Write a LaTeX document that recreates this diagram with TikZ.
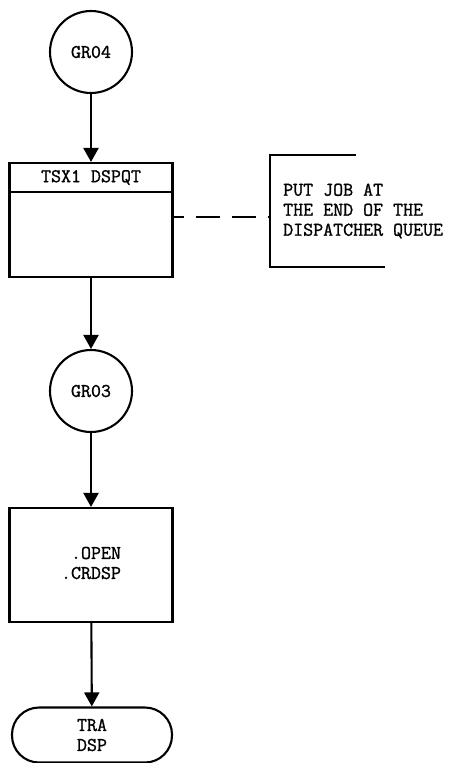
\documentclass[tikz,border=0pt]{standalone}
\usepackage{fontspec}
\newfontfamily\tyfont{Latin Modern Mono}[FakeBold=1.2]
\usetikzlibrary{arrows.meta}
\begin{document}
\begin{tikzpicture}[x=1pt,y=-1pt,
  every node/.style={font=\tyfont\fontsize{19.4}{20}\selectfont},
  ln/.style={line width=2.1pt},
  arr/.style={ln,-{Triangle[length=14pt,width=15pt]}},
  conn/.style={circle,draw,ln,minimum size=82pt,inner sep=0pt},
  procbox/.style={draw,ln,minimum width=163pt,minimum height=114pt,inner sep=0pt},
  hdrbox/.style={draw,ln,minimum width=163pt,minimum height=29pt,inner sep=0pt},
  term/.style={draw,ln,minimum width=160pt,minimum height=55pt,rounded corners=27pt,align=center,inner sep=0pt},
  note/.style={align=left,anchor=west,inner sep=0pt}]
\useasboundingbox (0,0) rectangle (453,763);
\node[conn] (g4) at (91,52) {GR04};
\node[procbox] (b1) at (91,220) {};
\node[hdrbox,anchor=north] (h1) at (b1.north) {TSX1 DSPQT};
\coordinate (a1) at (270,155);
\coordinate (a2) at (270,267);
\coordinate (a0) at (270,217);
\draw[ln] (356,155) -- (a1) -- (a2) -- (385,267);
\node[note] (t1) at (283,211) {PUT JOB AT\\THE END OF THE\\DISPATCHER QUEUE};
\draw[ln,dash pattern=on 24pt off 12pt,dash phase=14pt] (b1.east |- a0) -- (a0);
\node[conn] (g3) at (91,391) {GR03};
\node[procbox,minimum height=114pt] (b2) at (91,565) {};
\node[align=center,inner sep=0pt] (t2) at (91,563) {\phantom{.}.OPEN\\.CRDSP};
\node[term] (tr) at (92,735) {TRA\\DSP};
\draw[arr] (g4) -- (h1);
\draw[arr] (b1) -- (g3);
\draw[arr] (g3) -- (b2);
\draw[arr] (b2) -- (tr);
\end{tikzpicture}
\end{document}
